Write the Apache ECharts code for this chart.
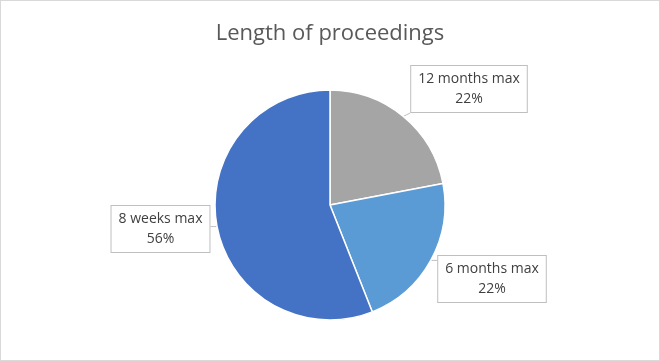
<!DOCTYPE html>
<html>
<head>
<meta charset="utf-8">
<script src="https://cdn.jsdelivr.net/npm/echarts@6/dist/echarts.min.js"></script>
<style>
html,body{margin:0;padding:0;background:#fff;}
#chart{width:660px;height:361px;box-sizing:border-box;border:1px solid #D9D9D9;}
</style>
</head>
<body>
<div id="chart"></div>
<script>
var titleText = "Length of proceedings";
var categories = ["12 months max", "6 months max", "8 weeks max"];
var values = [22, 22, 56];
var colors = ["#A5A5A5", "#5B9BD5", "#4472C4"];
// label box centres (layout only)
var labelCentres = [[468, 88], [491, 278], [159.5, 228]];

var chart = echarts.init(document.getElementById('chart'));
var data = categories.map(function (c, i) {
  return { name: c, value: values[i], itemStyle: { color: colors[i] } };
});
chart.setOption({
  animation: false,
  title: {
    text: titleText,
    left: 'center',
    top: 17,
    textStyle: { fontFamily: 'Open Sans', fontSize: 22, fontWeight: 'normal', color: '#595959' }
  },
  series: [{
    type: 'pie',
    center: [329, 204],
    radius: 115,
    startAngle: 90,
    clockwise: true,
    data: data,
    itemStyle: { borderColor: '#fff', borderWidth: 1.5 },
    label: {
      show: true,
      position: 'outside',
      formatter: function (p) { return p.name + '\n' + Math.round(p.percent) + '%'; },
      fontFamily: 'Open Sans',
      fontSize: 14,
      lineHeight: 20,
      color: '#404040',
      align: 'center',
      backgroundColor: '#fff',
      borderColor: '#BFBFBF',
      borderWidth: 1,
      padding: [3, 7, 3, 7]
    },
    labelLine: {
      show: true,
      length: 8,
      length2: 8,
      lineStyle: { color: '#BFBFBF', width: 1 }
    },
    labelLayout: function (params) {
      var c = labelCentres[params.dataIndex];
      var w = params.labelRect.width, h = params.labelRect.height;
      var tip = params.labelLinePoints ? params.labelLinePoints[0] : null;
      var res = { x: c[0], y: c[1], align: 'center', verticalAlign: 'middle' };
      if (tip) {
        var x0 = c[0] - w / 2, x1 = c[0] + w / 2, y0 = c[1] - h / 2, y1 = c[1] + h / 2;
        var ex = Math.min(Math.max(tip[0], x0), x1);
        var ey = Math.min(Math.max(tip[1], y0), y1);
        res.labelLinePoints = [tip, [(tip[0] + ex) / 2, (tip[1] + ey) / 2], [ex, ey]];
      }
      return res;
    }
  }]
});
</script>
</body>
</html>
